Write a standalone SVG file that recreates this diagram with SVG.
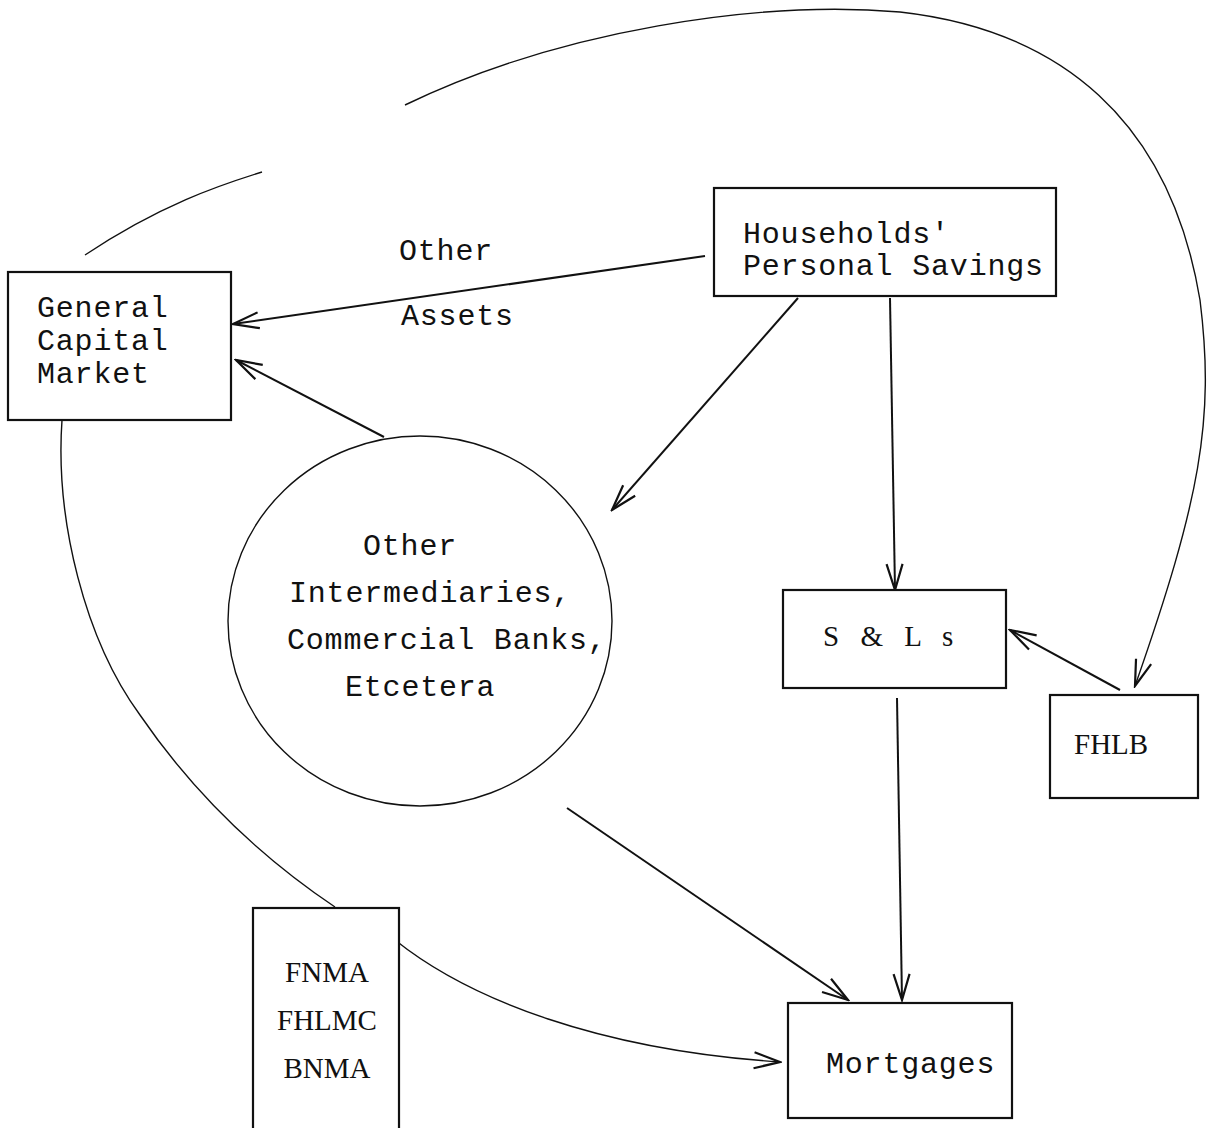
<svg xmlns="http://www.w3.org/2000/svg" width="1211" height="1128" viewBox="0 0 1211 1128">
<style>
.box{fill:#fff;stroke:#111;stroke-width:2.2}
.mono{font-family:"Liberation Mono","DejaVu Sans Mono",monospace;font-size:30px;letter-spacing:0.8px;fill:#111}
.serif{font-family:"Liberation Serif","DejaVu Serif",serif;font-size:29px;fill:#111}
.ln{fill:none;stroke:#111;stroke-width:2}
.cv{fill:none;stroke:#111;stroke-width:1.4}
</style>
<defs>
<marker id="ah" viewBox="0 0 30 20" refX="28" refY="10" markerWidth="30" markerHeight="20" markerUnits="userSpaceOnUse" orient="auto">
<path d="M2,2 L28,10 L2,18" fill="none" stroke="#111" stroke-width="2.2"/>
</marker>
</defs>
<rect width="1211" height="1128" fill="#fff"/>
<g id="connectors">
<path class="cv" d="M85,255 C160,205 220,185 262,172"/>
<path class="cv" d="M405,105 C560,30 760,0 900,12 C1060,30 1170,120 1200,300 C1215,420 1200,500 1135,686" marker-end="url(#ah)"/>
<path class="cv" d="M62,420 C55,520 85,640 140,715 C205,810 280,870 335,907"/>
<path class="cv" d="M395,940 C470,1000 600,1050 780,1062" marker-end="url(#ah)"/>
<path class="ln" d="M705,256 L233,324" marker-end="url(#ah)"/>
<path class="ln" d="M384,437 L236,360" marker-end="url(#ah)"/>
<path class="ln" d="M798,298 L612,510" marker-end="url(#ah)"/>
<path class="ln" d="M890,298 L895,590" marker-end="url(#ah)"/>
<path class="ln" d="M1120,690 L1010,630" marker-end="url(#ah)"/>
<path class="ln" d="M897,698 L902,1000" marker-end="url(#ah)"/>
<path class="ln" d="M567,808 L848,1000" marker-end="url(#ah)"/>
<text class="mono" x="399" y="260">Other</text>
<text class="mono" x="401" y="325">Assets</text>
</g>
<g id="general-capital-market">
<rect class="box" x="8" y="272" width="223" height="148"/>
<text class="mono" x="37" y="317">General</text>
<text class="mono" x="37" y="350">Capital</text>
<text class="mono" x="37" y="383">Market</text>
</g>
<g id="households">
<rect class="box" x="714" y="188" width="342" height="108"/>
<text class="mono" x="743" y="243">Households'</text>
<text class="mono" x="743" y="275">Personal Savings</text>
</g>
<g id="other-intermediaries">
<ellipse cx="420" cy="621" rx="192" ry="185" fill="#fff" stroke="#111" stroke-width="1.4"/>
<text class="mono" x="363" y="555">Other</text>
<text class="mono" x="289" y="602">Intermediaries,</text>
<text class="mono" x="287" y="649">Commercial Banks,</text>
<text class="mono" x="345" y="696">Etcetera</text>
</g>
<g id="sls">
<rect class="box" x="783" y="590" width="223" height="98"/>
<text class="serif" x="823" y="646" style="letter-spacing:7px">S &amp; L s</text>
</g>
<g id="fhlb">
<rect class="box" x="1050" y="695" width="148" height="103"/>
<text class="serif" x="1074" y="754">FHLB</text>
</g>
<g id="fnma">
<rect class="box" x="253" y="908" width="146" height="222"/>
<text class="serif" x="327" y="982" text-anchor="middle">FNMA</text>
<text class="serif" x="327" y="1030" text-anchor="middle">FHLMC</text>
<text class="serif" x="327" y="1078" text-anchor="middle">BNMA</text>
</g>
<g id="mortgages">
<rect class="box" x="788" y="1003" width="224" height="115"/>
<text class="mono" x="826" y="1073">Mortgages</text>
</g>
</svg>
